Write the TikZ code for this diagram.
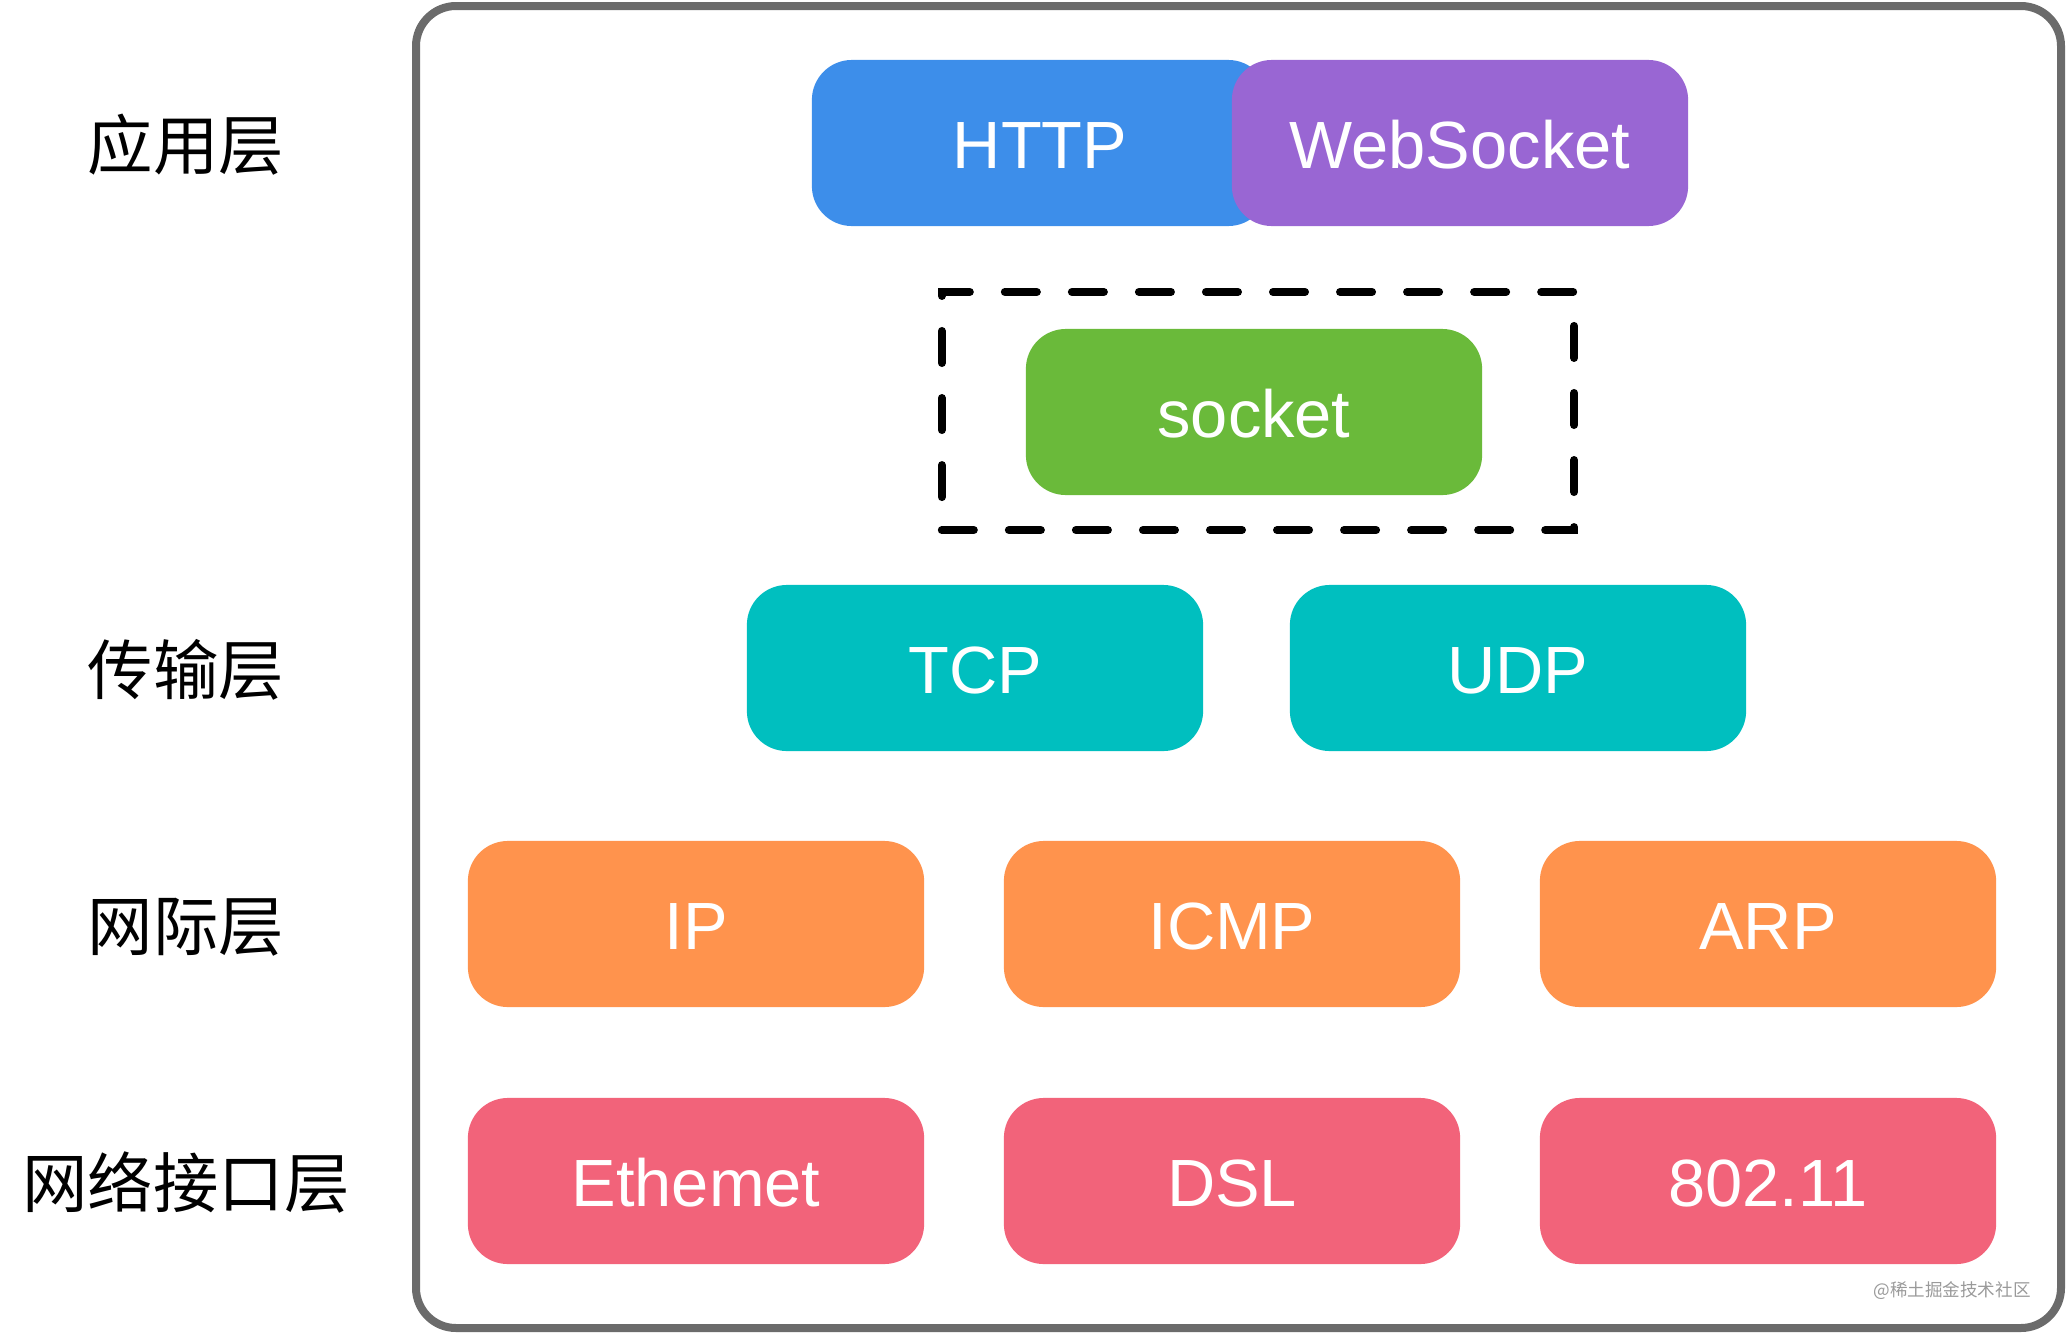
\documentclass[tikz,border=0pt]{standalone}
\usepackage{fontspec}
\setmainfont{Liberation Sans}
\newfontfamily\cjk{Noto Sans CJK SC}
\definecolor{cblue}{HTML}{3D8EEA}
\definecolor{cpurple}{HTML}{9966D3}
\definecolor{cgreen}{HTML}{6ABA3A}
\definecolor{cteal}{HTML}{00BFBF}
\definecolor{corange}{HTML}{FF934D}
\definecolor{cpink}{HTML}{F2637A}
\definecolor{cframe}{HTML}{6B6B6B}
\definecolor{cmark}{HTML}{9A9A9A}
\tikzset{
  proto/.style={rectangle, rounded corners=0.4cm, minimum width=4.56cm, minimum height=1.66cm,
    inner sep=0pt, text=white, font=\fontsize{19}{22}\selectfont, text height=0.5cm, text depth=0cm},
  layerlabel/.style={font=\cjk\fontsize{18.6}{22}\selectfont, text=black, inner sep=0pt},
  dashbox/.style={draw=black, line width=0.08cm, line cap=round, dash pattern=on 0.32cm off 0.35cm,
    rectangle, minimum width=6.32cm, minimum height=2.38cm, inner sep=0pt},
  frame/.style={draw=cframe, line width=0.08cm, rounded corners=0.4cm}
}
\begin{document}
\begin{tikzpicture}[x=0.01cm, y=-0.01cm]
\useasboundingbox (0,0) rectangle (2066,1333);
\draw[frame] (416,6) rectangle (2061,1328);
% layer labels
\node[layerlabel] (l1) at (186,145) {应用层};
\node[layerlabel] (l2) at (186,670) {传输层};
\node[layerlabel] (l3) at (186,927) {网际层};
\node[layerlabel] (l4) at (186,1182) {网络接口层};
% application layer
\node[proto, fill=cblue] (http) at (1040,143) {HTTP};
\node[proto, fill=cpurple] (ws) at (1460,143) {WebSocket};
% socket
\node[dashbox] (dbox) at (1258,411) {};
\node[proto, fill=cgreen] (socket) at (1254,412) {socket};
% transport
\node[proto, fill=cteal] (tcp) at (975,668) {TCP};
\node[proto, fill=cteal] (udp) at (1518,668) {UDP};
% internet
\node[proto, fill=corange] (ip) at (696,924) {IP};
\node[proto, fill=corange] (icmp) at (1232,924) {ICMP};
\node[proto, fill=corange] (arp) at (1768,924) {ARP};
% link
\node[proto, fill=cpink] (eth) at (696,1181) {Ethemet};
\node[proto, fill=cpink] (dsl) at (1232,1181) {DSL};
\node[proto, fill=cpink] (wifi) at (1768,1181) {802.11};
% watermark
\node[font=\cjk\fontsize{5}{6}\selectfont, text=cmark, inner sep=0pt] (mark) at (1952,1291) {@稀土掘金技术社区};
\end{tikzpicture}
\end{document}
